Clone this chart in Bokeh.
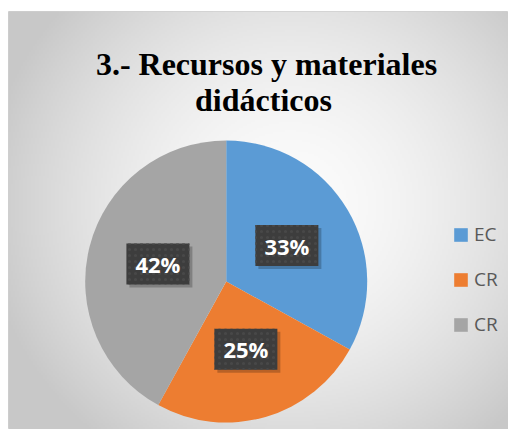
import numpy as np
from bokeh.plotting import figure
from bokeh.models import Range1d, Legend, LegendItem, ColumnDataSource
from bokeh.core.properties import value
from bokeh.embed import file_html
from bokeh.resources import INLINE

# ---- data ----
categories = ["EC", "CR", "CR"]
shares = [33, 25, 42]
pct_labels = ["33%", "25%", "42%"]
colors = ["#5B9BD5", "#ED7D31", "#A5A5A5"]
title_lines = ["3.- Recursos y materiales", "didácticos"]

# ---- layout (pixel-like data space: data = (x, -y) of figure pixels) ----
FW, FH = 508, 429
LEFT, TOP = 8, 11
X0, X1 = LEFT, FW
Y0, Y1 = -FH, -TOP
CX, CY, R = 225.7, -281.0, 141.0

p = figure(width=FW, height=FH, output_backend="svg", toolbar_location=None,
           x_range=Range1d(X0, X1), y_range=Range1d(Y0, Y1),
           x_axis_location=None, y_axis_location=None,
           min_border_left=LEFT, min_border_right=0, min_border_bottom=0, min_border_top=TOP,
           border_fill_color="white", outline_line_color="#d0d0d0")
p.grid.visible = False

# radial gradient background
nx, ny = 250, 209
xs = np.linspace(X0, X1, nx)
ys = np.linspace(Y0, Y1, ny)
XX, YY = np.meshgrid(xs, ys)
gx, gy = 290.0, -205.0
d = np.sqrt(((XX - gx) / 310.0) ** 2 + ((YY - gy) / 300.0) ** 2)
d = np.clip(d, 0, 1)
g = (252 - 52 * d ** 1.7).astype(np.uint8)
img = np.empty((ny, nx), dtype=np.uint32)
view = img.view(dtype=np.uint8).reshape((ny, nx, 4))
view[:, :, 0] = g
view[:, :, 1] = g
view[:, :, 2] = g
view[:, :, 3] = 255
p.image_rgba(image=[img], x=X0, y=Y0, dw=X1 - X0, dh=Y1 - Y0)

# pie
total = float(sum(shares))
fr = np.array(shares) / total
cum = np.concatenate([[0], np.cumsum(fr)])
start = np.pi / 2 - 2 * np.pi * cum[:-1]
end = np.pi / 2 - 2 * np.pi * cum[1:]
mid = (start + end) / 2
src = ColumnDataSource(dict(start=start, end=end, color=colors, cat=categories))
wr = p.wedge(x=CX, y=CY, radius=R, start_angle="start", end_angle="end",
             direction="clock", fill_color="color", line_color=None, source=src)

# data labels
lx = CX + 0.5 * R * np.cos(mid)
ly = CY + 0.5 * R * np.sin(mid)
p.rect(x=lx + 3, y=ly - 3, width=63, height=41, fill_color="black", fill_alpha=0.22,
       line_color=None)
p.rect(x=lx, y=ly, width=63, height=41, fill_color="#3D3D3D", line_color=None,
       hatch_pattern="dot", hatch_color="#484848", hatch_scale=6, hatch_weight=1)
p.text(x=lx, y=ly, text=pct_labels, text_align="center", text_baseline="middle",
       text_font=value("Open Sans"), text_font_style="bold", text_font_size="22px",
       text_color="white")

# title
p.text(x=[266, 263], y=[-63, -99], text=title_lines, text_align="center",
       text_baseline="alphabetic", text_font=value("Liberation Serif"),
       text_font_style="bold", text_font_size="32px", text_color="black")

# legend
items = [LegendItem(label=categories[i], renderers=[wr], index=i) for i in range(len(categories))]
legend = Legend(items=items, location=(444, 92), orientation="vertical",
                glyph_width=17, glyph_height=17, label_standoff=5,
                label_text_font="Open Sans", label_text_font_size="19px",
                label_text_color="#595959", label_height=14, spacing=19,
                padding=0, margin=0, border_line_color=None, background_fill_alpha=0)
p.add_layout(legend)

open("out.html", "w").write(file_html(p, INLINE))
